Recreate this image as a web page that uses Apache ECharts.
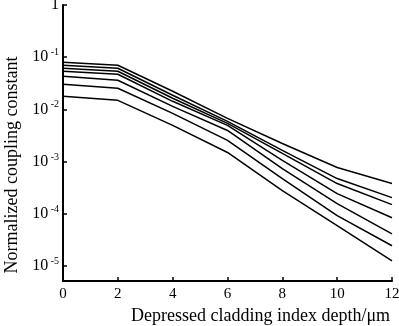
<!DOCTYPE html>
<html>
<head>
<meta charset="utf-8">
<script src="https://cdn.jsdelivr.net/npm/echarts@6/dist/echarts.min.js"></script>
<style>
  html, body { margin: 0; padding: 0; background: #fff; }
  #chart { width: 399px; height: 326px; }
</style>
</head>
<body>
<div id="chart"></div>
<script>
// depth values on the x axis (um)
const depths = [0, 2, 4, 6, 8, 10, 12];

// normalized coupling constant, one curve per array (top to bottom)
const curve1 = [0.080, 0.070, 0.0222, 0.00671, 0.00222, 0.000767, 0.000378];
const curve2 = [0.070, 0.0614, 0.0186, 0.00588, 0.00163, 0.000471, 0.000203];
const curve3 = [0.0614, 0.0538, 0.0163, 0.00538, 0.00143, 0.000378, 0.000149];
const curve4 = [0.0538, 0.0471, 0.01426, 0.00492, 0.00105, 0.000243, 0.0000838];
const curve5 = [0.0431, 0.0361, 0.01143, 0.00394, 0.000733, 0.000156, 0.0000412];
const curve6 = [0.0303, 0.0254, 0.00838, 0.00254, 0.000471, 0.0000916, 0.0000243];
const curve7 = [0.0178, 0.0149, 0.00492, 0.00149, 0.000277, 0.0000588, 0.0000125];

// decade exponents shown as tick labels
const yExponents = [0, -1, -2, -3, -4, -5];
const xTicks = [0, 2, 4, 6, 8, 10, 12];

const curves = [curve1, curve2, curve3, curve4, curve5, curve6, curve7];

const font = 'Liberation Serif';
const chart = echarts.init(document.getElementById('chart'));

chart.setOption({
    animation: false,
    grid: {
        left: 63,
        right: 7,
        top: 5,
        bottom: 45,
        containLabel: false,
        outerBoundsMode: 'none'
    },
    xAxis: {
        type: 'value',
        min: 0,
        max: 12,
        interval: 2,
        name: 'Depressed cladding index depth/\u03bcm',
        nameLocation: 'middle',
        nameGap: 23,
        nameTextStyle: { color: '#000', fontFamily: font, fontSize: 18, padding: [0, 0, 0, 66] },
        axisLine: { onZero: false, lineStyle: { color: '#000', width: 2 } },
        axisTick: { inside: true, length: 4, lineStyle: { color: '#000', width: 1.5 } },
        axisLabel: {
            color: '#000', fontFamily: font, fontSize: 15, margin: 6,
            customValues: xTicks
        },
        splitLine: { show: false }
    },
    yAxis: {
        type: 'value',
        min: -5.29,
        max: 0,
        name: 'Normalized coupling constant',
        nameLocation: 'middle',
        nameGap: 42,
        nameTextStyle: { color: '#000', fontFamily: font, fontSize: 18, padding: [0, 44, 0, 0] },
        axisLine: { onZero: false, lineStyle: { color: '#000', width: 2 } },
        axisTick: {
            inside: true, length: 4, lineStyle: { color: '#000', width: 1.5 },
            customValues: yExponents
        },
        axisLabel: {
            customValues: yExponents,
            margin: 4,
            formatter: function (v) {
                if (v === 0) return '{b|1}';
                return '{b|10}{s| ' + v + '}';
            },
            rich: {
                b: { color: '#000', fontFamily: font, fontSize: 16 },
                s: { color: '#000', fontFamily: font, fontSize: 10, padding: [0, 0, 9, 0] }
            }
        },
        splitLine: { show: false }
    },
    series: curves.map((c, i) => ({
        name: 'curve' + (i + 1),
        type: 'line',
        data: depths.map((d, j) => [d, Math.log10(c[j])]),
        showSymbol: false,
        smooth: false,
        lineStyle: { color: '#000', width: 1.5 }
    }))
});
</script>
</body>
</html>
